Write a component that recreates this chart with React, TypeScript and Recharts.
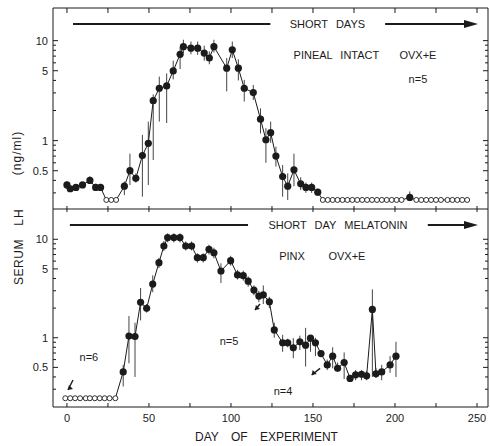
import React from "react"
import { ComposedChart, Line, XAxis, YAxis, ErrorBar, ReferenceLine, ReferenceDot } from "recharts"

const FONT = "'Liberation Sans', Arial, sans-serif"
const INK = "#1b1b1b"

// x axis (day of experiment)
const X_DOMAIN = [-8.5, 256.7]
const X_TICKS = [0, 25, 50, 75, 100, 125, 150, 175, 200, 225, 250]

// log y axis, ng/ml
const Y_TICKS = [0.3, 0.4, 0.5, 0.6, 0.7, 0.8, 0.9, 1, 2, 3, 4, 5, 6, 7, 8, 9, 10]
const Y_LABELS: Record<number, string> = { 0.5: "0.5", 1: "1", 5: "5", 10: "10" }
const TOP_Y = [0.207, 21.2]
const BOT_Y = [0.198, 20.3]

// top panel: pineal intact OVX+E, short days (n=5)
const topDays = [0, 2, 5.5, 9.5, 14, 17.5, 20.5, 35, 38.4, 42, 46, 49.6, 52.6, 56.3, 60.8, 64.8, 69, 71, 75.6, 79.7, 83.7, 86.8, 89.6, 97.4, 100.8, 104.5, 108.1, 113.6, 118, 121.3, 124.2, 127.4, 131.5, 134.6, 138.4, 142.5, 145.7, 149.2, 152.9, 209]
const topLH = [0.36, 0.33, 0.34, 0.36, 0.4, 0.34, 0.34, 0.35, 0.5, 0.42, 0.71, 0.94, 2.51, 3.34, 3.52, 4.98, 7.3, 8.7, 8.4, 8.4, 7.5, 6.7, 8.7, 5.3, 8.1, 5.3, 3.34, 3.02, 1.64, 1.02, 1.2, 0.7, 0.437, 0.35, 0.51, 0.37, 0.34, 0.34, 0.305, 0.27]
const topLo = [0.33, 0.31, 0.32, 0.34, 0.37, 0.32, 0.32, 0.285, 0.36, 0.38, 0.275, 0.36, 0.64, 1.55, 1.5, 4.1, 5.2, 7.5, 7.3, 7.2, 6.3, 5.8, 7.6, 3.1, 6.7, 4.0, 2.46, 2.55, 1.18, 0.6, 0.95, 0.55, 0.275, 0.255, 0.35, 0.32, 0.3, 0.3, 0.28, 0.25]
const topHi = [0.39, 0.35, 0.36, 0.38, 0.44, 0.37, 0.37, 0.39, 0.74, 0.47, 1.14, 1.55, 2.9, 4.37, 4.7, 6.3, 8.6, 10.2, 9.8, 9.8, 8.9, 7.8, 10.2, 6.7, 9.8, 6.5, 4.05, 3.6, 2.1, 1.33, 1.55, 0.87, 0.57, 0.47, 0.74, 0.43, 0.38, 0.38, 0.33, 0.31]
// undetectable samples (open circles)
const topUndetDays = [24, 27, 30, 156, 159, 162, 165, 168, 171, 174, 177, 180, 183, 186, 189, 192, 195, 198, 201, 204, 213, 216, 219, 222, 225, 228, 232, 235, 238, 241, 244]
const TOP_UNDET = 0.255

// bottom panel: PINX OVX+E, short day melatonin
const botDays = [34.3, 37.8, 41.5, 44.9, 48.6, 52.3, 56.1, 59.1, 61.4, 65.2, 68.9, 72.4, 76, 79.5, 83.1, 86.6, 89.6, 93.9, 99.8, 104, 107.5, 110.5, 114, 117, 119.7, 123.4, 126.4, 131.5, 134.6, 138, 142, 145.5, 148.5, 151.5, 154.9, 158.7, 162, 165, 169, 172.6, 176, 179.6, 182.7, 186.2, 188.4, 191.9, 197, 200.6]
const botLH = [0.45, 1.04, 1.03, 2.29, 1.99, 3.51, 5.78, 8.55, 10.4, 10.4, 10.4, 8.55, 8.55, 6.5, 6.5, 7.9, 7.3, 4.76, 6.06, 4.34, 4.27, 3.75, 3.05, 2.65, 2.72, 2.32, 1.2, 0.89, 0.89, 0.79, 0.91, 0.84, 0.99, 0.89, 0.69, 0.53, 0.65, 0.49, 0.56, 0.386, 0.42, 0.425, 0.41, 1.94, 0.43, 0.45, 0.53, 0.65]
const botLo = [0.32, 0.55, 0.4, 1.5, 1.8, 2.9, 5.1, 7.6, 9.3, 9.3, 9.3, 7.7, 7.7, 5.8, 5.8, 7.0, 6.4, 3.6, 5.4, 3.9, 3.8, 3.3, 2.7, 2.3, 2.2, 2.0, 1.0, 0.72, 0.8, 0.62, 0.75, 0.51, 0.72, 0.65, 0.64, 0.47, 0.49, 0.45, 0.38, 0.36, 0.37, 0.37, 0.37, 0.4, 0.39, 0.37, 0.44, 0.4]
const botHi = [0.53, 1.66, 1.42, 3.2, 2.2, 4.3, 6.5, 9.6, 11.5, 11.5, 11.5, 9.5, 9.5, 7.2, 7.2, 8.8, 8.2, 5.7, 6.8, 4.9, 4.8, 4.2, 3.4, 3.0, 3.4, 2.6, 1.42, 1.07, 0.98, 0.99, 1.05, 1.26, 1.05, 1.0, 0.75, 0.6, 0.8, 0.56, 0.71, 0.42, 0.47, 0.47, 0.46, 3.1, 0.49, 0.53, 0.65, 0.91]
const botUndetDays = [-1, 2, 5, 8, 11.5, 14, 17, 20, 23, 26, 29.5]
const BOT_UNDET = 0.243

type Pt = { day: number; lh: number; err: [number, number]; open: boolean }

function buildSeries(days: number[], lh: number[], lo: number[], hi: number[], undet: number[], level: number): Pt[] {
  const pts: Pt[] = days.map((d, i) => ({ day: d, lh: lh[i], err: [lh[i] - lo[i], hi[i] - lh[i]], open: false }))
  undet.forEach((d) => pts.push({ day: d, lh: level, err: [0, 0], open: true }))
  return pts.sort((a, b) => a.day - b.day)
}

const topData = buildSeries(topDays, topLH, topLo, topHi, topUndetDays, TOP_UNDET)
const botData = buildSeries(botDays, botLH, botLo, botHi, botUndetDays, BOT_UNDET)

const renderDot = (p: any) => {
  if (p.cx == null || p.cy == null) return <g key={p.index} />
  return p.payload.open
    ? <circle key={p.index} cx={p.cx} cy={p.cy} r={2.5} fill="#fff" stroke={INK} strokeWidth={0.9} />
    : <circle key={p.index} cx={p.cx} cy={p.cy} r={3.6} fill={INK} stroke="none" />
}

const leftTick = (p: any) => {
  const lab = Y_LABELS[p.payload.value]
  const len = lab ? 5 : 3
  return (
    <g>
      <line x1={p.x} x2={p.x + len} y1={p.y} y2={p.y} stroke={INK} strokeWidth={1} />
      {lab && (
        <text x={p.x - 5} y={p.y} dy={4} textAnchor="end" fontSize={11} fontFamily={FONT} fill={INK}>{lab}</text>
      )}
    </g>
  )
}

const rightTick = (p: any) => {
  const len = Y_LABELS[p.payload.value] ? 5 : 3
  return <line x1={p.x} x2={p.x - len} y1={p.y} y2={p.y} stroke={INK} strokeWidth={1} />
}

const topAxisTick = (p: any) => <line x1={p.x} x2={p.x} y1={p.y} y2={p.y + 5} stroke={INK} strokeWidth={1} />
const crossTick = (p: any) => <line x1={p.x} x2={p.x} y1={p.y - 3} y2={p.y + 3} stroke={INK} strokeWidth={1} />

const bottomTick = (p: any) => (
  <g>
    <line x1={p.x} x2={p.x} y1={p.y} y2={p.y - 4} stroke={INK} strokeWidth={1} />
    {p.payload.value % 50 === 0 && (
      <text x={p.x} y={p.y + 15} textAnchor="middle" fontSize={11} fontFamily={FONT} fill={INK}>{p.payload.value}</text>
    )}
  </g>
)

const note = (key: string, x: number, y: number, text: string, xId: string) => (
  <ReferenceDot
    key={key}
    x={x}
    y={y}
    xAxisId={xId}
    yAxisId="l"
    ifOverflow="visible"
    shape={(p: any) => (
      <text x={p.cx} y={p.cy} dy={4} textAnchor="middle" fontSize={11} fontFamily={FONT} fill={INK} style={{ wordSpacing: 5 }}>
        {text}
      </text>
    )}
  />
)

const arrowHead = (key: string, x: number, y: number, xId: string) => (
  <ReferenceDot
    key={key}
    x={x}
    y={y}
    xAxisId={xId}
    yAxisId="l"
    ifOverflow="visible"
    shape={(p: any) => <path d={`M${p.cx},${p.cy} L${p.cx - 14},${p.cy - 4} L${p.cx - 14},${p.cy + 4} Z`} fill={INK} />}
  />
)

// small pointer arrows, tip at (x2, y2)
const pointer = (key: string, x1: number, y1: number, x2: number, y2: number) => [
  <ReferenceLine key={key + "l"} xAxisId="b" yAxisId="l" segment={[{ x: x1, y: y1 }, { x: x2, y: y2 }]} stroke={INK} strokeWidth={1.4} ifOverflow="visible" />,
  <ReferenceDot
    key={key + "h"}
    x={x2}
    y={y2}
    xAxisId="b"
    yAxisId="l"
    ifOverflow="visible"
    shape={(p: any) => <path d={`M${p.cx},${p.cy} L${p.cx + 1},${p.cy - 5} L${p.cx + 5},${p.cy - 1} Z`} fill={INK} />}
  />,
]

function Panel({ data, yDomain, top }: { data: Pt[]; yDomain: number[]; top: boolean }) {
  return (
    <ComposedChart
      width={490}
      height={top ? 215 : 246}
      data={data}
      margin={top ? { top: 7, right: 0, bottom: 0, left: 0 } : { top: 9, right: 0, bottom: 3, left: 0 }}
    >
      {top ? (
        <XAxis xAxisId="b" dataKey="day" type="number" domain={X_DOMAIN} ticks={X_TICKS} allowDataOverflow
          height={6} tickSize={0} tickMargin={0} tick={crossTick} interval={0} stroke={INK} />
      ) : (
        <XAxis xAxisId="b" dataKey="day" type="number" domain={X_DOMAIN} ticks={X_TICKS} allowDataOverflow
          height={36} tickSize={0} tickMargin={0} tick={bottomTick} interval={0} stroke={INK}
          label={{ value: "DAY OF EXPERIMENT", position: "insideBottom", offset: 2, dx: -4, fontSize: 12, fontFamily: FONT, fill: INK, style: { wordSpacing: 9 } }} />
      )}
      {top && (
        <XAxis xAxisId="t" orientation="top" dataKey="day" type="number" domain={X_DOMAIN} ticks={X_TICKS} allowDataOverflow
          height={1} tickSize={0} tickMargin={0} tick={topAxisTick} interval={0} stroke={INK} />
      )}
      <YAxis yAxisId="l" scale="log" domain={yDomain} allowDataOverflow ticks={Y_TICKS} interval={0}
        width={53} tickSize={0} tickMargin={0} tick={leftTick} stroke={INK} />
      <YAxis yAxisId="r" orientation="right" scale="log" domain={yDomain} allowDataOverflow ticks={Y_TICKS} interval={0}
        width={2} tickSize={0} tickMargin={0} tick={rightTick} stroke={INK} />

      {top ? [
        <ReferenceLine key="a1" xAxisId="b" yAxisId="l" segment={[{ x: 3.7, y: 14.67 }, { x: 124, y: 14.67 }]} stroke={INK} strokeWidth={2} ifOverflow="visible" />,
        <ReferenceLine key="a2" xAxisId="b" yAxisId="l" segment={[{ x: 194, y: 14.67 }, { x: 244, y: 14.67 }]} stroke={INK} strokeWidth={2} ifOverflow="visible" />,
        arrowHead("ah", 250.6, 14.67, "b"),
        note("t1", 158.8, 14.67, "SHORT DAYS", "b"),
        note("t2", 164.3, 7.18, "PINEAL INTACT", "b"),
        note("t3", 214, 7.18, "OVX+E", "b"),
        note("t4", 214, 4.13, "n=5", "b"),
      ] : [
        <ReferenceLine key="a1" xAxisId="b" yAxisId="l" segment={[{ x: 1.8, y: 13.96 }, { x: 110.4, y: 13.96 }]} stroke={INK} strokeWidth={2} ifOverflow="visible" />,
        <ReferenceLine key="a2" xAxisId="b" yAxisId="l" segment={[{ x: 220, y: 13.96 }, { x: 244, y: 13.96 }]} stroke={INK} strokeWidth={2} ifOverflow="visible" />,
        arrowHead("ah", 250.6, 13.96, "b"),
        note("t1", 165.2, 13.96, "SHORT DAY MELATONIN", "b"),
        note("t2", 137.2, 6.76, "PINX", "b"),
        note("t3", 170.7, 6.76, "OVX+E", "b"),
        note("t4", 98.8, 0.927, "n=5", "b"),
        note("t5", 13.4, 0.637, "n=6", "b"),
        note("t6", 131.7, 0.288, "n=4", "b"),
        ...pointer("p1", 3.7, 0.372, 0.6, 0.295),
        ...pointer("p2", 117.7, 2.2, 114.6, 1.91),
        ...pointer("p3", 154.3, 0.489, 149.2, 0.418),
      ]}

      <Line
        xAxisId="b"
        yAxisId="l"
        type="linear"
        dataKey="lh"
        stroke={INK}
        strokeWidth={1}
        dot={renderDot}
        activeDot={false}
        isAnimationActive={false}
      >
        <ErrorBar dataKey="err" direction="y" width={0} stroke="#444" strokeWidth={1} isAnimationActive={false} />
      </Line>
    </ComposedChart>
  )
}

export default function App() {
  return (
    <div style={{ position: "absolute", left: 0, top: 0, width: 490, height: 446, background: "#fff" }}>
      <div style={{ position: "absolute", left: 0, top: 0 }}>
        <Panel data={topData} yDomain={TOP_Y} top />
      </div>
      <div style={{ position: "absolute", left: 0, top: 200 }}>
        <Panel data={botData} yDomain={BOT_Y} top={false} />
      </div>
      <svg width={490} height={446} style={{ position: "absolute", left: 0, top: 0, pointerEvents: "none" }}>
        <text transform="translate(17,153) rotate(-90)" textAnchor="middle" dy={4} fontSize={12} letterSpacing={1} fontFamily={FONT} fill={INK}>(ng/ml)</text>
        <text transform="translate(19,217) rotate(-90)" textAnchor="middle" dy={4} fontSize={12} letterSpacing={1} fontFamily={FONT} fill={INK}>LH</text>
        <text transform="translate(19,262) rotate(-90)" textAnchor="middle" dy={4} fontSize={12} letterSpacing={0.5} fontFamily={FONT} fill={INK}>SERUM</text>
      </svg>
    </div>
  )
}
